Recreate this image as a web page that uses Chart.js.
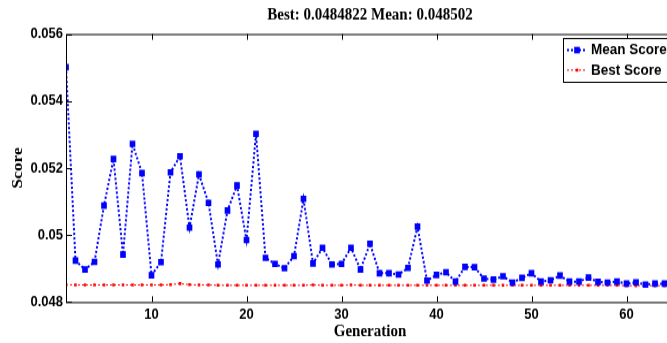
<!DOCTYPE html>
<html>
<head>
<meta charset="utf-8">
<script src="https://cdn.jsdelivr.net/npm/chart.js@4/dist/chart.umd.min.js"></script>
<style>
  html, body { margin:0; padding:0; background:#fff; width:667px; height:343px; overflow:hidden; }
  #wrap { width:740px; height:298px; transform:scaleY(1.151); transform-origin:0 0; }
  canvas { display:block; }
</style>
</head>
<body>
<div id="wrap"><canvas id="c" width="740" height="298"></canvas></div>
<script>
// GA run: mean and best score per generation
const generations = Array.from({length:65}, (_, i) => i + 1);

const meanScore = [
  0.05501, 0.04924, 0.04897, 0.04920, 0.05088, 0.05227, 0.04942, 0.05272, 0.05185, 0.04880,
  0.04919, 0.05187, 0.05235, 0.05022, 0.05181, 0.05096, 0.04912, 0.05073, 0.05148, 0.04985,
  0.05302, 0.04932, 0.04914, 0.04901, 0.04937, 0.05108, 0.04915, 0.04962, 0.04912, 0.04914,
  0.04962, 0.04897, 0.04974, 0.04886, 0.04886, 0.04882, 0.04902, 0.05025, 0.04864, 0.04881,
  0.04889, 0.04861, 0.04905, 0.04904, 0.04870, 0.04867, 0.04877, 0.04858, 0.04872, 0.04886,
  0.04861, 0.04865, 0.04879, 0.04861, 0.04861, 0.04873, 0.04860, 0.04858, 0.04861, 0.04855,
  0.04859, 0.04852, 0.04855, 0.04855, 0.048502
];

const bestScore = [
  0.04852, 0.04851, 0.04851, 0.04851, 0.04851, 0.04851, 0.04851, 0.04851, 0.04851, 0.04851,
  0.04851, 0.04852, 0.04855, 0.04852, 0.04851, 0.04851, 0.04850, 0.04850, 0.04850, 0.04850,
  0.04850, 0.04850, 0.04850, 0.04850, 0.04850, 0.04850, 0.04851, 0.04850, 0.04850, 0.04850,
  0.04851, 0.04850, 0.04850, 0.04850, 0.04850, 0.04850, 0.04850, 0.04850, 0.04850, 0.04850,
  0.04850, 0.04850, 0.04850, 0.04850, 0.04850, 0.04850, 0.04850, 0.04850, 0.04850, 0.04850,
  0.04850, 0.04850, 0.04850, 0.04850, 0.04850, 0.04850, 0.04850, 0.04850, 0.04850, 0.04849,
  0.04849, 0.04849, 0.04849, 0.04849, 0.0484822
];

const xTicks = [10, 20, 30, 40, 50, 60];
const yTicks = [0.048, 0.050, 0.052, 0.054, 0.056];
const yTickLabels = ['0.048', '0.05', '0.052', '0.054', '0.056'];
const titleText = 'Best: 0.0484822 Mean: 0.048502';

const toPoints = vals => vals.map((v, i) => ({x: generations[i], y: v}));

// frame with inward tick marks, matlab style, plus the title over the axes
const framePlugin = {
  id: 'frame',
  afterDraw(chart){
    const {ctx, chartArea:a, scales} = chart;
    ctx.save();
    ctx.strokeStyle = '#000';
    ctx.lineWidth = 1;
    ctx.strokeRect(a.left + 0.5, a.top + 0.5, a.right - a.left, a.bottom - a.top);
    ctx.beginPath();
    scales.x.ticks.forEach(t => {
      const px = Math.round(scales.x.getPixelForValue(t.value)) + 0.5;
      ctx.moveTo(px, a.bottom); ctx.lineTo(px, a.bottom - 5);
      ctx.moveTo(px, a.top); ctx.lineTo(px, a.top + 5);
    });
    scales.y.ticks.forEach(t => {
      const py = Math.round(scales.y.getPixelForValue(t.value)) + 0.5;
      ctx.moveTo(a.left, py); ctx.lineTo(a.left + 6, py);
      ctx.moveTo(a.right, py); ctx.lineTo(a.right - 6, py);
    });
    ctx.stroke();
    ctx.fillStyle = '#000';
    ctx.font = 'bold 15px "Liberation Serif", "Times New Roman", serif';
    ctx.textAlign = 'center';
    ctx.textBaseline = 'middle';
    ctx.fillText(titleText, (a.left + a.right) / 2, 13);
    ctx.restore();
  }
};

// boxed legend in the upper right corner
const boxLegend = {
  id: 'boxLegend',
  afterDraw(chart){
    const {ctx, chartArea:a} = chart;
    const left = 563, top = 33, right = a.right - 3, rowH = 17.4;
    ctx.save();
    ctx.fillStyle = '#fff';
    ctx.fillRect(left, top, right - left, 38);
    ctx.strokeStyle = '#000';
    ctx.lineWidth = 1;
    ctx.strokeRect(left + 0.5, top + 0.5, right - left, 38);
    chart.data.datasets.forEach((ds, i) => {
      const y = top + 10.5 + i * rowH;
      ctx.strokeStyle = ds.borderColor;
      ctx.lineWidth = ds.borderWidth;
      ctx.setLineDash(ds.borderDash);
      ctx.beginPath(); ctx.moveTo(567, y); ctx.lineTo(587, y); ctx.stroke();
      ctx.setLineDash([]);
      ctx.fillStyle = ds.borderColor;
      const s = ds.pointRadius * Math.SQRT1_2;
      ctx.fillRect(577 - s, y - s, 2 * s, 2 * s);
      ctx.fillStyle = '#000';
      ctx.font = 'bold 13.5px "Liberation Sans", Arial, sans-serif';
      ctx.textBaseline = 'middle';
      ctx.fillText(ds.label, 591, y);
    });
    ctx.restore();
  }
};

new Chart(document.getElementById('c'), {
  type: 'line',
  data: {
    datasets: [
      {
        label: 'Mean Score',
        data: toPoints(meanScore),
        borderColor: '#0000ff',
        backgroundColor: '#0000ff',
        borderWidth: 2,
        borderDash: [2, 2],
        pointStyle: 'rect',
        pointRadius: 4,
        pointBorderWidth: 0,
        tension: 0
      },
      {
        label: 'Best Score',
        data: toPoints(bestScore),
        borderColor: '#ff0000',
        backgroundColor: '#ff0000',
        borderWidth: 1,
        borderDash: [2, 2],
        pointStyle: 'rect',
        pointRadius: 1.8,
        pointBorderWidth: 0,
        tension: 0
      }
    ]
  },
  options: {
    responsive: false,
    animation: false,
    layout: { padding: { left: 0, right: 66, top: 29.5, bottom: 0 } },
    plugins: {
      legend: { display: false },
      tooltip: { enabled: false },
      title: { display: false }
    },
    scales: {
      x: {
        type: 'linear',
        min: 1,
        max: 65,
        grid: { display: false, drawTicks: false },
        border: { display: false },
        afterBuildTicks: s => { s.ticks = xTicks.map(v => ({value: v})); },
        afterFit: s => { s.height = 35.6; },
        ticks: {
          color: '#000',
          padding: 3.5,
          maxRotation: 0,
          font: { family: '"Liberation Sans", Arial, sans-serif', size: 13, weight: 'bold' }
        },
        title: {
          display: true,
          text: 'Generation',
          color: '#000',
          padding: { top: 0, bottom: 1 },
          font: { family: '"Liberation Serif", "Times New Roman", serif', size: 15, weight: 'bold' }
        }
      },
      y: {
        min: 0.048,
        max: 0.056,
        grid: { display: false, drawTicks: false },
        border: { display: false },
        afterBuildTicks: s => { s.ticks = yTicks.map(v => ({value: v})); },
        afterFit: s => { s.width = 66; },
        ticks: {
          color: '#000',
          padding: 3,
          callback: (v) => yTickLabels[yTicks.findIndex(t => Math.abs(t - v) < 1e-9)],
          font: { family: '"Liberation Sans", Arial, sans-serif', size: 13, weight: 'bold' }
        },
        title: {
          display: true,
          text: 'Score',
          color: '#000',
          padding: { top: 9.5, bottom: 0 },
          font: { family: '"Liberation Serif", "Times New Roman", serif', size: 15, weight: 'bold' }
        }
      }
    }
  },
  plugins: [framePlugin, boxLegend]
});
</script>
</body>
</html>
